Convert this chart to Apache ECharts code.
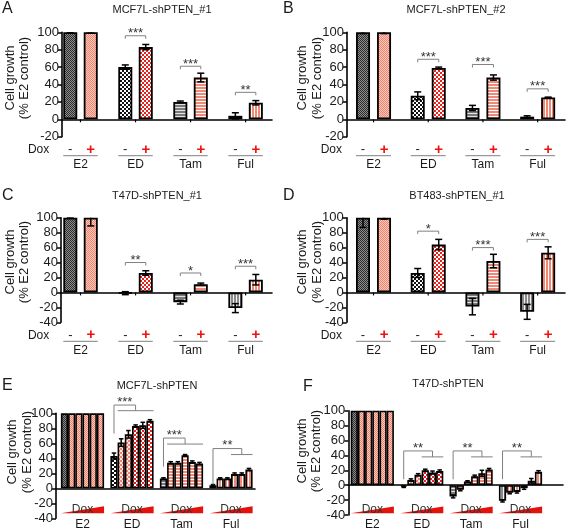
<!DOCTYPE html>
<html><head><meta charset="utf-8">
<script src="https://cdn.jsdelivr.net/npm/echarts@6/dist/echarts.min.js"></script>
<style>html,body{margin:0;padding:0;background:#fff}#c{width:567px;height:530px}</style>
</head><body><div id="c"></div>
<script>
// ---------------- DATA ----------------
const groups = ['E2', 'ED', 'Tam', 'Ful'];

const titleA = 'MCF7L-shPTEN_#1';
const A_minus = [100, 60, 20, 4];
const A_minusErr = [0.5, 2.5, 1, 3.5];
const A_plus = [100, 83, 48, 19];
const A_plusErr = [1, 3, 5, 2.5];
const A_stars = ['', '***', '***', '**'];
const A_bracketY = [null, 96, 61, 31];

const titleB = 'MCF7L-shPTEN_#2';
const B_minus = [100, 27, 13, 3];
const B_minusErr = [1.5, 4.5, 3, 1];
const B_plus = [100, 59, 48, 25];
const B_plusErr = [1.5, 1, 3, 0.5];
const B_stars = ['', '***', '***', '***'];
const B_bracketY = [null, 69, 63, 35];

const titleC = 'T47D-shPTEN_#1';
const C_minus = [100, -1, -13, -21];
const C_minusErr = [0.5, 2, 2.5, 6];
const C_plus = [100, 26, 11, 17];
const C_plusErr = [11, 3, 1.5, 7];
const C_stars = ['', '**', '*', '***'];
const C_bracketY = [null, 40, 26, 35];

const titleD = 'BT483-shPTEN_#1';
const D_minus = [100, 26, -19, -26];
const D_minusErr = [13, 6, 11, 10];
const D_plus = [100, 64, 42, 53];
const D_plusErr = [2, 7, 9, 8];
const D_stars = ['', '*', '***', '***'];
const D_bracketY = [null, 82, 60, 71];

const titleE = 'MCF7L-shPTEN';
const E_E2 = [100, 100, 100, 100, 100, 100];
const E_ED = [43, 61, 72, 83, 84, 90];
const E_Tam = [13, 34, 34, 44, 35, 33];
const E_Ful = [4, 13, 13, 19, 19, 25];
const E_E2err = [0, 0, 0, 0, 0, 0];
const E_EDerr = [4, 5, 5, 1.5, 4, 1.5];
const E_Tamerr = [1, 1.5, 1.5, 1, 1.5, 1.5];
const E_Fulerr = [1, 1, 1, 1.5, 1.5, 1.5];
const E_stars = ['', '***', '***', '**'];
const E_cmpFrom = [null, 2, 2, 4];
const E_bracketTop = [null, 111, 67, 53];
const E_bracketLow = [null, 103.5, 59, 45];
const E_legBottom = [null, 73, 29, 5];

const titleF = 'T47D-shPTEN';
const F_E2 = [100, 100, 100, 100, 100, 100];
const F_ED = [-2, 7, 14, 20, 17, 19];
const F_Tam = [-15, -6, 5, 12, 16, 21];
const F_Ful = [-21, -10, -9, -4, 6, 18];
const F_E2err = [0, 0, 0, 0, 0, 0];
const F_EDerr = [1, 1.5, 1.5, 1.5, 2, 1.5];
const F_Tamerr = [2, 1.5, 1, 1.5, 4, 1.5];
const F_Fulerr = [1.5, 1.5, 1.5, 1.5, 3, 1.5];
const F_stars = ['', '**', '**', '**'];
const F_cmpFrom = [null, 4, 4, 4];
const F_bracketTop = [null, 46, 46, 46];
const F_bracketLow = [null, 38, 38, 38];
const F_legBottom = [null, 8, 8, 8];

const yLabel1 = 'Cell growth';
const yLabel2 = '(% E2 control)';
const doxLabel = 'Dox';

// ---------------- STYLE / LAYOUT ----------------
const FONT = '"Liberation Sans", Arial, sans-serif';
const TXT = '#1a1a1a';
const GREY = '#808080';

function pat(kind, fg, bg) {
  const c = document.createElement('canvas');
  let w = 4, h = 4;
  if (kind === 'fine') { w = 2; h = 2; }
  else if (kind === 'h') { w = 1; h = 3; }
  else if (kind === 'v') { w = 3; h = 1; }
  c.width = w; c.height = h;
  const g = c.getContext('2d');
  g.fillStyle = bg; g.fillRect(0, 0, w, h);
  g.fillStyle = fg;
  if (kind === 'fine') { g.fillRect(0, 0, 1, 1); g.fillRect(1, 1, 1, 1); }
  else if (kind === 'check') { g.fillRect(0, 0, 2, 2); g.fillRect(2, 2, 2, 2); }
  else if (kind === 'h') { g.fillRect(0, 0, w, 2); }
  else { g.fillRect(0, 0, 2, h); }
  return { image: c, repeat: 'repeat' };
}
const P = {
  E2m: pat('fine', '#2e2e2e', '#8c8c8c'),
  E2p: pat('fine', '#ee8672', '#fcc8ba'),
  EDm: pat('check', '#111', '#fff'),
  EDp: pat('check', '#e8231c', '#fff'),
  EDl: pat('check', '#f08070', '#fde4de'),
  Tamm: pat('h', '#7a7a7a', '#e2e2e2'),
  Tamp: pat('h', '#f08a76', '#fff'),
  Fulm: pat('v', '#8a8a8a', '#f2f2f2'),
  Fulp: pat('v', '#f08a76', '#fff')
};
const PM = [P.E2m, P.EDm, P.Tamm, P.Fulm];
const PP = [P.E2p, P.EDp, P.Tamp, P.Fulp];

const L = {
  A: { left: 62, top: 32.3, width: 210, height: 104.4, xMin: -0.336, xMax: 3.48, yMin: -20, off: 0.186, bw: 14 },
  B: { left: 347, top: 32.3, width: 218, height: 104.4, xMin: -0.485, xMax: 3.5, yMin: -20, off: 0.192, bw: 14 },
  C: { left: 61, top: 217.7, width: 211, height: 104.6, xMin: -0.355, xMax: 3.48, yMin: -40, off: 0.186, bw: 14 },
  D: { left: 346.7, top: 217.7, width: 218.3, height: 104.6, xMin: -0.49, xMax: 3.5, yMin: -40, off: 0.192, bw: 14 },
  E: { left: 56, top: 413.3, width: 199, height: 105, xMin: -0.535, xMax: 3.485, yMin: -40, step: 0.1455, bw: 7.2, triB: -5, triT: -12, doxY: -8.5, labY: 6.5 },
  F: { left: 348.3, top: 410.7, width: 214.7, height: 104.3, xMin: -0.486, xMax: 3.86, yMin: -40, step: 0.1457, bw: 7.2, triB: -1.7, triT: -8.5, doxY: -5.5, labY: 10 }
};
const Y_MAX = 100;

const option = { animation: false, backgroundColor: '#fff', grid: [], xAxis: [], yAxis: [], series: [], graphic: [] };

function axes(idx, l) {
  option.grid.push({ left: l.left, top: l.top, width: l.width, height: l.height, outerBoundsMode: 'none', containLabel: false });
  option.xAxis.push({ gridIndex: idx, type: 'value', min: l.xMin, max: l.xMax,
    axisLine: { show: true, onZero: true, lineStyle: { color: '#000', width: 1.6 } },
    axisTick: { show: false }, axisLabel: { show: false }, splitLine: { show: false } });
  option.yAxis.push({ gridIndex: idx, type: 'value', min: l.yMin, max: Y_MAX, interval: 20,
    axisLine: { show: true, onZero: false, lineStyle: { color: '#000', width: 1.6 } },
    axisTick: { show: true, length: 4, lineStyle: { color: '#000', width: 1.5 } },
    axisLabel: { fontSize: 13, color: TXT, fontFamily: FONT, margin: 3 },
    splitLine: { show: false } });
}

function errSeries(idx, data, cap) {
  option.series.push({ type: 'custom', xAxisIndex: idx, yAxisIndex: idx, z: 4, clip: false, data: data,
    renderItem: function (p, api) {
      const x = api.value(0), y = api.value(1), e = api.value(2);
      if (!e) return null;
      const hi = Math.min(y + e, Y_MAX);
      const t = api.coord([x, hi]), b = api.coord([x, y - e]);
      const st = { stroke: '#000', lineWidth: 1.5 };
      const ch = [
        { type: 'line', shape: { x1: t[0], y1: t[1], x2: b[0], y2: b[1] }, style: st },
        { type: 'line', shape: { x1: b[0] - cap / 2, y1: b[1], x2: b[0] + cap / 2, y2: b[1] }, style: st }
      ];
      if (y + e <= Y_MAX) ch.push({ type: 'line', shape: { x1: t[0] - cap / 2, y1: t[1], x2: t[0] + cap / 2, y2: t[1] }, style: st });
      return { type: 'group', children: ch };
    } });
}

function textEl(x, y, s, size, color, align, extra) {
  return Object.assign({ type: 'text', x: x, y: y, style: { text: s, fontSize: size, fontFamily: FONT, fill: color, align: align || 'center', verticalAlign: 'middle' } }, extra || {});
}

function pairPanel(idx, l, minus, minusErr, plus, plusErr, stars, brY) {
  axes(idx, l);
  const off = l.off;
  const bars = [], errs = [];
  groups.forEach(function (g, i) {
    bars.push({ value: [i - off, minus[i]], itemStyle: { color: PM[i] } });
    bars.push({ value: [i + off, plus[i]], itemStyle: { color: PP[i] } });
    errs.push([i - off, minus[i], minusErr[i]]);
    errs.push([i + off, plus[i], plusErr[i]]);
  });
  option.series.push({ type: 'bar', xAxisIndex: idx, yAxisIndex: idx, barWidth: l.bw, clip: false, z: 2, data: bars,
    itemStyle: { borderColor: '#000', borderWidth: 1.8 } });
  errSeries(idx, errs, 7);
  const br = [];
  groups.forEach(function (g, i) { if (stars[i]) br.push([i - off, i + off, brY[i], i]); });
  option.series.push({ type: 'custom', xAxisIndex: idx, yAxisIndex: idx, z: 5, data: br,
    renderItem: function (p, api) {
      const a = api.coord([api.value(0), api.value(2)]), b = api.coord([api.value(1), api.value(2)]);
      const s = stars[api.value(3)];
      return { type: 'group', children: [
        { type: 'polyline', shape: { points: [[a[0], a[1] + 3], [a[0], a[1]], [b[0], b[1]], [b[0], b[1] + 3]] }, style: { stroke: GREY, lineWidth: 1, fill: null } },
        textEl((a[0] + b[0]) / 2, a[1] - 2, s, 13, '#333', 'center')
      ] };
    } });
  option.series.push({ type: 'custom', xAxisIndex: idx, yAxisIndex: idx, z: 5, clip: false,
    data: groups.map(function (g, i) { return [i, 0]; }),
    renderItem: function (p, api) {
      const i = api.value(0);
      const c0 = api.coord([i, 0]);
      const gb = api.coord([i, l.yMin])[1];
      const xm = api.coord([i - off, 0])[0], xp = api.coord([i + off, 0])[0];
      const ch = [
        { type: 'line', shape: { x1: c0[0], y1: c0[1], x2: c0[0], y2: c0[1] + 3 }, style: { stroke: '#000', lineWidth: 1.2 } },
        textEl(xm, gb + 13, '-', 13, TXT, 'center'),
        { type: 'text', x: xp, y: gb + 13, style: { text: '+', fontSize: 15, fontWeight: 'bold', fontFamily: FONT, fill: '#ee1111', align: 'center', verticalAlign: 'middle' } },
        { type: 'line', shape: { x1: xm - l.bw / 2, y1: gb + 19, x2: xp + l.bw / 2, y2: gb + 19 }, style: { stroke: GREY, lineWidth: 1 } },
        textEl(c0[0], gb + 28, groups[i], 12, TXT, 'center')
      ];
      if (i === 0) ch.push(textEl(xm - 21, gb + 13, doxLabel, 12, TXT, 'right'));
      return { type: 'group', children: ch };
    } });
}

function dosePanel(idx, l, vals, errsIn, stars, cmpFrom, bTop, bLow, legBot) {
  axes(idx, l);
  const st = l.step;
  const bars = [], errs = [];
  groups.forEach(function (g, i) {
    for (let k = 0; k < 6; k++) {
      const x = i + (k - 2.5) * st;
      let col = k === 0 ? PM[i] : PP[i];
      if (i === 1 && (k === 1 || k === 2)) col = P.EDl;
      bars.push({ value: [x, vals[i][k]], itemStyle: { color: col } });
      errs.push([x, vals[i][k], errsIn[i][k]]);
    }
  });
  option.series.push({ type: 'bar', xAxisIndex: idx, yAxisIndex: idx, barWidth: l.bw, clip: false, z: 2, data: bars,
    itemStyle: { borderColor: '#000', borderWidth: 1.6 } });
  errSeries(idx, errs, 4.5);
  const br = [];
  groups.forEach(function (g, i) { if (stars[i]) br.push([i, bTop[i], i]); });
  option.series.push({ type: 'custom', xAxisIndex: idx, yAxisIndex: idx, z: 5, data: br,
    renderItem: function (p, api) {
      const i = api.value(2);
      const f = cmpFrom[i] - 1;
      const legX = i - 2.5 * st;
      const tickX = i + ((f + 5) / 2 - 2.5) * st;
      const lowL = i + (f - 3) * st, lowR = i + 3 * st;
      const pLegB = api.coord([legX, legBot[i]]), pLegT = api.coord([legX, bTop[i]]);
      const pTickT = api.coord([tickX, bTop[i]]), pTickB = api.coord([tickX, bLow[i]]);
      const pL = api.coord([lowL, bLow[i]]), pR = api.coord([lowR, bLow[i]]);
      const ls = { stroke: GREY, lineWidth: 1, fill: null };
      return { type: 'group', children: [
        { type: 'polyline', shape: { points: [pLegB, pLegT, pTickT, pTickB] }, style: ls },
        { type: 'line', shape: { x1: pL[0], y1: pL[1], x2: pR[0], y2: pR[1] }, style: ls },
        textEl((pLegT[0] + pTickT[0]) / 2, pLegT[1] - 3, stars[i], 13, '#333', 'center')
      ] };
    } });
  option.series.push({ type: 'custom', xAxisIndex: idx, yAxisIndex: idx, z: 5, clip: false,
    data: groups.map(function (g, i) { return [i, 0]; }),
    renderItem: function (p, api) {
      const i = api.value(0);
      const gb = api.coord([i, l.yMin])[1];
      const xl = api.coord([i - 3 * st, 0])[0], xr = api.coord([i + 3 * st, 0])[0], xc = api.coord([i, 0])[0];
      return { type: 'group', children: [
        { type: 'polygon', shape: { points: [[xl, gb + l.triB], [xr, gb + l.triB], [xr, gb + l.triT]] }, style: { fill: '#e3120b' } },
        textEl(xc, gb + l.doxY, doxLabel, 12, '#333', 'center'),
        textEl(xc, gb + l.labY, groups[i], 12, TXT, 'center')
      ] };
    } });
}

pairPanel(0, L.A, A_minus, A_minusErr, A_plus, A_plusErr, A_stars, A_bracketY);
pairPanel(1, L.B, B_minus, B_minusErr, B_plus, B_plusErr, B_stars, B_bracketY);
pairPanel(2, L.C, C_minus, C_minusErr, C_plus, C_plusErr, C_stars, C_bracketY);
pairPanel(3, L.D, D_minus, D_minusErr, D_plus, D_plusErr, D_stars, D_bracketY);
dosePanel(4, L.E, [E_E2, E_ED, E_Tam, E_Ful], [E_E2err, E_EDerr, E_Tamerr, E_Fulerr], E_stars, E_cmpFrom, E_bracketTop, E_bracketLow, E_legBottom);
dosePanel(5, L.F, [F_E2, F_ED, F_Tam, F_Ful], [F_E2err, F_EDerr, F_Tamerr, F_Fulerr], F_stars, F_cmpFrom, F_bracketTop, F_bracketLow, F_legBottom);

const heads = [
  { t: titleA, tx: 162, ty: 10, l: 'A', lx: 2, ly: 9, n1x: 10, n2x: 24, ny: 78 },
  { t: titleB, tx: 456, ty: 10, l: 'B', lx: 283, ly: 9, n1x: 302, n2x: 317, ny: 78 },
  { t: titleC, tx: 157, ty: 196, l: 'C', lx: 2, ly: 196, n1x: 10, n2x: 24, ny: 262 },
  { t: titleD, tx: 457, ty: 196, l: 'D', lx: 283, ly: 196, n1x: 302, n2x: 317, ny: 262 },
  { t: titleE, tx: 157, ty: 386, l: 'E', lx: 2, ly: 386, n1x: 12, n2x: 27, ny: 452 },
  { t: titleF, tx: 448, ty: 384, l: 'F', lx: 303, ly: 387, n1x: 302, n2x: 316, ny: 451 }
];
heads.forEach(function (h) {
  option.graphic.push(textEl(h.tx, h.ty, h.t, 11, TXT, 'center'));
  option.graphic.push(textEl(h.lx, h.ly, h.l, 16, TXT, 'left'));
  option.graphic.push(textEl(h.n1x, h.ny, yLabel1, 13, TXT, 'center', { rotation: Math.PI / 2 }));
  option.graphic.push(textEl(h.n2x, h.ny, yLabel2, 13, TXT, 'center', { rotation: Math.PI / 2 }));
});

const chart = echarts.init(document.getElementById('c'), null, { renderer: 'canvas' });
chart.setOption(option);
</script>
</body></html>
